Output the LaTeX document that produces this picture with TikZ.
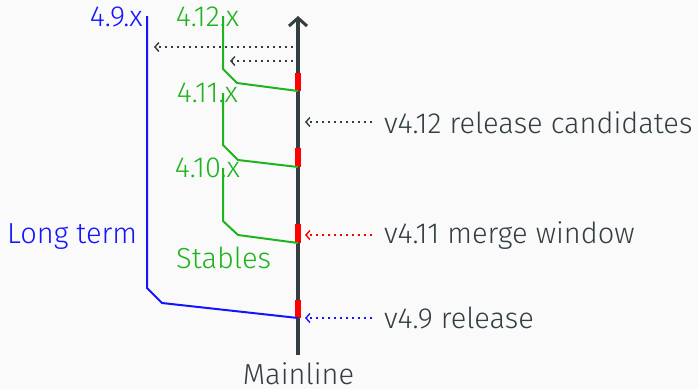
\documentclass[tikz,border=0pt]{standalone}
\usepackage{fontspec}
\setmainfont{Fira Sans Light}
\usetikzlibrary{arrows.meta}

\definecolor{slate}{RGB}{51,62,66}
\definecolor{stablegreen}{RGB}{30,180,30}
\definecolor{ltblue}{RGB}{20,20,255}
\definecolor{paper}{RGB}{250,250,250}

\begin{document}
\begin{tikzpicture}[x=1pt,y=-1pt,
  lbl/.style={font=\fontsize{29}{34}\selectfont, inner sep=0pt},
  branch/.style={line width=2pt, line join=round},
  pointer/.style={line width=1.6pt, dash pattern=on 1.6pt off 4.4pt,
    -{Straight Barb[length=4pt,width=9pt,line width=1.4pt]}},
  tag/.style={fill=red, draw=none},
]
\fill[paper] (0,0) rectangle (698,389);
\useasboundingbox (0,0) rectangle (698,389);

% mainline trunk
\coordinate (mbot) at (298,355);
\coordinate (mtop) at (298,16);
\draw[slate, line width=4pt, -{Straight Barb[length=8pt,width=18pt,line width=3pt]}] (mbot) -- (mtop);
\node[lbl, slate, anchor=base] (mainline) at (298.5,384.5) {Mainline};

% merge points on the trunk
\coordinate (j12) at (298,91);
\coordinate (j11) at (298,167);
\coordinate (j10) at (298,243);
\coordinate (j9)  at (298,318);

% release markers
\fill[tag] (295,73) rectangle (301,91);
\fill[tag] (295,148) rectangle (301,167);
\fill[tag] (295,224) rectangle (301,243);
\fill[tag] (295,300) rectangle (301,318);

% stable branches
\node[lbl, stablegreen, anchor=base] (s12) at (207.5,26) {4.12.x};
\node[lbl, stablegreen, anchor=base] (s11) at (207.5,102) {4.11.x};
\node[lbl, stablegreen, anchor=base] (s10) at (207.5,177) {4.10.x};
\node[lbl, stablegreen, anchor=base west] (stables) at (176,268) {Stables};

\coordinate (b12) at (223,16);
\coordinate (b11) at (223,93);
\coordinate (b10) at (223,168);
\draw[branch, stablegreen] (b12) -- (223,69) -- (237,83) -- (j12);
\draw[branch, stablegreen] (b11) -- (223,145) -- (238,160) -- (j11);
\draw[branch, stablegreen] (b10) -- (223,221) -- (238,235) -- (j10);

% long term branch
\node[lbl, ltblue, anchor=base east] (lt) at (143,26) {4.9.x};
\node[lbl, ltblue, anchor=base west] (longterm) at (7,243) {Long term};
\coordinate (b9) at (147,16);
\draw[branch, ltblue] (b9) -- (147,288) -- (162,303) -- (j9);

% pointers
\coordinate (p1s) at (293,47);
\coordinate (p1e) at (154,47);
\coordinate (p2s) at (293,61);
\coordinate (p2e) at (230,61);
\draw[pointer, slate] (p1s) -- (p1e);
\draw[pointer, slate] (p2s) -- (p2e);

\node[lbl, slate, anchor=base west] (rc) at (384,133) {v4.12 release candidates};
\node[lbl, slate, anchor=base west] (mw) at (384,243) {v4.11 merge window};
\node[lbl, slate, anchor=base west] (rel) at (384,328) {v4.9 release};

\coordinate (rcs) at (372,122);
\coordinate (rce) at (305,122);
\coordinate (mws) at (372,235);
\coordinate (mwe) at (305,235);
\coordinate (rels) at (372,318);
\coordinate (rele) at (305,318);
\draw[pointer, slate] (rcs) -- (rce);
\draw[pointer, red] (mws) -- (mwe);
\draw[pointer, ltblue] (rels) -- (rele);
\end{tikzpicture}
\end{document}
